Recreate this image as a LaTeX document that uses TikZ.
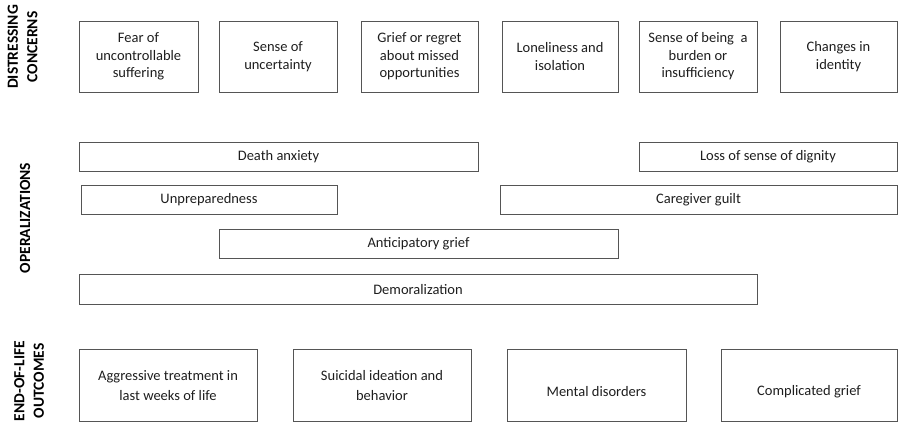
\documentclass[tikz,border=0pt]{standalone}
\usepackage{fontspec}
\setmainfont{Carlito}
\definecolor{boxline}{RGB}{85,85,85}
\definecolor{txt}{RGB}{30,30,30}
\newcommand{\lowertxt}[1]{\raisebox{-6pt}[\height][\depth]{#1}}
\begin{document}
\begin{tikzpicture}[x=1pt,y=-1pt,
  box/.style={draw=boxline, line width=0.9pt, rectangle, inner sep=0pt, align=center, text=txt,
    font=\fontsize{14.5}{17.5}\selectfont},
  obox/.style={box, font=\fontsize{14.5}{20}\selectfont},
  lbl/.style={rotate=90, align=center, text=black, inner sep=0pt,
    font=\fontsize{15.5}{19.5}\selectfont\bfseries}]
\useasboundingbox (0,0) rectangle (899,423);
% labels
\node[lbl] (l1) at (22.5,47) {DISTRESSING\\CONCERNS};
\node[lbl] (l2) at (25,218) {OPERALIZATIONS};
\node[lbl] (l3) at (29,381) {END-OF-LIFE\\OUTCOMES};
% distressing concerns
\node[box, minimum width=119, minimum height=71] (c1) at (138.5,56.5) {Fear of\\uncontrollable\\suffering};
\node[box, minimum width=118, minimum height=71] (c2) at (278,56.5) {Sense of\\uncertainty};
\node[box, minimum width=117, minimum height=71] (c3) at (419.5,56.5) {Grief or regret\\about missed\\opportunities};
\node[box, minimum width=116, minimum height=71] (c4) at (560,56.5) {Loneliness and\\isolation};
\node[box, minimum width=118, minimum height=71] (c5) at (698,56.5) {Sense of being~ a\\burden or\\insufficiency};
\node[box, minimum width=117, minimum height=71] (c6) at (838.5,56.5) {Changes in\\identity};
% operalizations
\node[box, minimum width=399, minimum height=29.5] (p1) at (278.5,156.75) {Death anxiety};
\node[box, minimum width=258, minimum height=29.5] (p2) at (768,157) {Loss of sense of dignity};
\node[box, minimum width=256, minimum height=29.5] (p3) at (209,200) {Unpreparedness};
\node[box, minimum width=397, minimum height=29.5] (p4) at (698.5,200) {Caregiver guilt};
\node[box, minimum width=399, minimum height=29.5] (p5) at (418.5,244) {Anticipatory grief};
\node[box, minimum width=678, minimum height=29.5] (p6) at (418,289.5) {Demoralization};
% outcomes
\node[obox, minimum width=178, minimum height=72.5] (o1) at (168,385.25) {Aggressive treatment in\\last weeks of life};
\node[obox, minimum width=178, minimum height=72.5] (o2) at (382,385.25) {Suicidal ideation and\\behavior};
\node[obox, minimum width=179, minimum height=72.5] (o3) at (596.5,385.25) {\lowertxt{Mental disorders}};
\node[obox, minimum width=176, minimum height=72.5] (o4) at (809,385.25) {\lowertxt{Complicated grief}};
\end{tikzpicture}
\end{document}
